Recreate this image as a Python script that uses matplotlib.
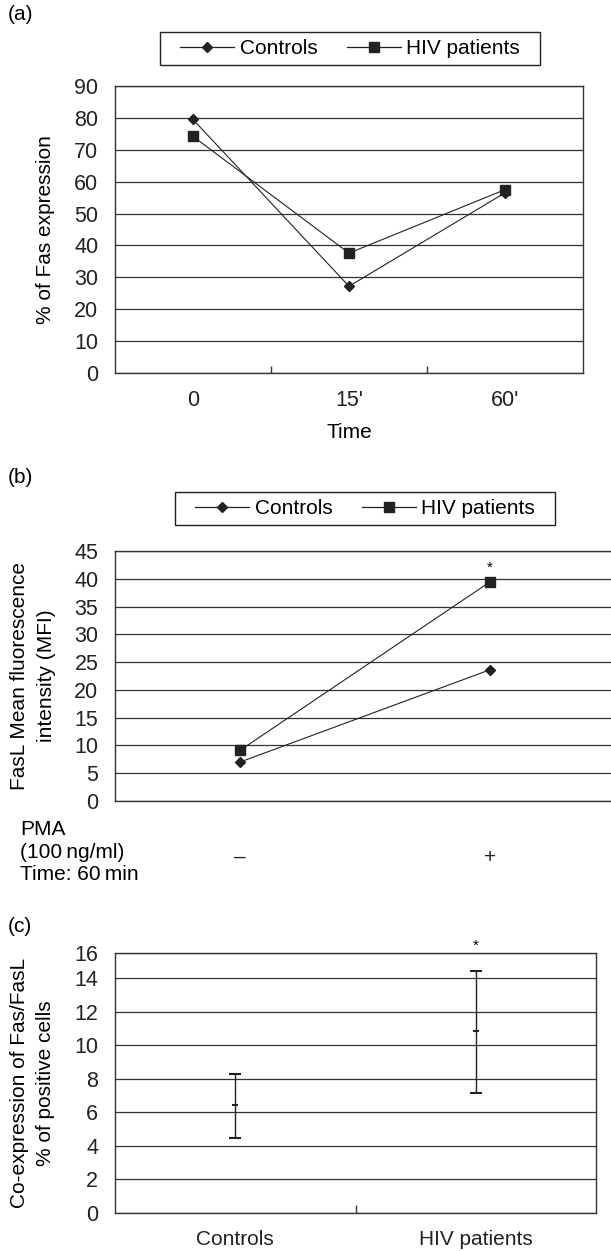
import matplotlib
matplotlib.use("Agg")
import matplotlib.pyplot as plt
from matplotlib.lines import Line2D
from matplotlib.patches import Rectangle

plt.rcParams['font.family'] = ['Liberation Sans', 'DejaVu Sans']
plt.rcParams['font.size'] = 15

# (a) Fas expression over time
time_labels = ['0', "15'", "60'"]
fas_controls = [79.5, 27.2, 56.5]
fas_hiv = [74.2, 37.6, 57.5]

# (b) FasL MFI with / without PMA
pma_labels = ['\u2013', '+']
fasl_controls = [7.0, 23.6]
fasl_hiv = [9.1, 39.4]

# (c) Fas/FasL co-expression, mean and range
groups = ['Controls', 'HIV patients']
coexp_mean = [6.43, 10.83]
coexp_low = [4.48, 7.16]
coexp_high = [8.27, 14.42]

W, H = 611, 1251
INK = '#222222'
GRID = '#333333'


def fx(x):
    return x / W


def fy(y):
    return 1 - y / H


def px_axes(fig, left, right, top, bottom):
    return fig.add_axes([fx(left), fy(bottom), (right - left) / W, (bottom - top) / H])


def style(ax):
    for s in ax.spines.values():
        s.set_color(GRID)
        s.set_linewidth(1.0)
    ax.grid(axis='y', color=GRID, linewidth=0.9)
    ax.set_axisbelow(True)
    ax.tick_params(axis='y', length=0, pad=12, labelsize=15.5, colors=INK)


def legend(ax, left, right, top, bottom):
    fig = ax.figure
    fig.add_artist(Rectangle((fx(left), fy(bottom)), (right - left) / W, (bottom - top) / H,
                             transform=fig.transFigure, fill=False, ec=INK, lw=1.0))
    handles = [Line2D([], [], color=INK, lw=0.9, marker='D', ms=5.5),
               Line2D([], [], color=INK, lw=0.9, marker='s', ms=6.8)]
    ax.legend(handles, ['Controls', 'HIV patients'], ncol=2, loc='center',
              bbox_to_anchor=(fx((left + right) / 2), fy((top + bottom) / 2)),
              bbox_transform=fig.transFigure, frameon=False, fontsize=15,
              handlelength=2.6, handletextpad=0.25, columnspacing=1.4)


def ylabel(fig, text, x, y, spacing=1.2):
    fig.text(fx(x), fy(y), text, rotation=90, ha='center', va='center',
             fontsize=15, linespacing=spacing, multialignment='center')


fig = plt.figure(figsize=(W / 100, H / 100), dpi=100)

# ---------- (a)
ax = px_axes(fig, 115, 583, 86, 373)
x = range(len(time_labels))
ax.plot(x, fas_controls, color=INK, lw=0.8, marker='D', ms=5.5)
ax.plot(x, fas_hiv, color=INK, lw=0.8, marker='s', ms=6.8)
ax.set_xlim(-0.5, len(time_labels) - 0.5)
ax.set_ylim(0, 90)
ax.set_yticks(range(0, 91, 10))
ax.set_xticks(list(x))
ax.set_xticklabels(time_labels)
ax.set_xticks([0.5, 1.5], minor=True)
ax.tick_params(axis='x', which='major', length=0, pad=12, labelsize=15.5, colors=INK)
ax.tick_params(axis='x', which='minor', direction='in', length=5, width=1.0, color=GRID)
style(ax)
ax.set_xlabel('Time', fontsize=15, labelpad=9)
ylabel(fig, '% of Fas expression', 46, 229.5)
legend(ax, 160, 540, 32, 65)
fig.text(fx(8), fy(15), '(a)', ha='left', va='center', fontsize=15)

# ---------- (b)
ax = px_axes(fig, 115, 614.5, 551, 801)
x = range(len(pma_labels))
ax.plot(x, fasl_controls, color=INK, lw=0.8, marker='D', ms=5.5)
ax.plot(x, fasl_hiv, color=INK, lw=0.8, marker='s', ms=6.8)
ax.annotate('*', xy=(1, fasl_hiv[1]), xytext=(0, 10), textcoords='offset points',
            ha='center', va='center', fontsize=11)
ax.set_xlim(-0.5, len(pma_labels) - 0.5)
ax.set_ylim(0, 45)
ax.set_yticks(range(0, 46, 5))
ax.set_xticks(list(x))
ax.set_xticklabels(pma_labels)
ax.tick_params(axis='x', length=0, pad=34, labelsize=15, colors=INK)
style(ax)
ylabel(fig, 'FasL Mean fluorescence\nintensity (MFI)', 33, 676, spacing=1.5)
legend(ax, 175, 555, 492, 525)
fig.text(fx(8), fy(477), '(b)', ha='left', va='center', fontsize=15)
fig.text(fx(20), fy(852), 'PMA\n(100\u2009ng/ml)\nTime: 60\u2009min', ha='left',
         va='center', fontsize=15, linespacing=1.25)

# ---------- (c)
ax = px_axes(fig, 115, 596, 953, 1213)
x = list(range(len(groups)))
yerr = [[m - lo for m, lo in zip(coexp_mean, coexp_low)],
        [hi - m for m, hi in zip(coexp_mean, coexp_high)]]
ax.errorbar(x, coexp_mean, yerr=yerr, fmt='_', color=INK, ms=5, mew=1.5,
            elinewidth=1.0, capsize=4.3, capthick=2.2)
ax.annotate('*', xy=(1, 15.5), xytext=(0, 5), textcoords='offset points',
            ha='center', va='center', fontsize=11, annotation_clip=False)
ax.set_xlim(-0.5, len(groups) - 0.5)
ax.set_ylim(0, 15.5)
ax.set_yticks([0, 2, 4, 6, 8, 10, 12, 14, 15.5])
ax.set_yticklabels(['0', '2', '4', '6', '8', '10', '12', '14', '16'])
ax.set_xticks(x)
ax.set_xticklabels(groups)
ax.set_xticks([0.5], minor=True)
ax.tick_params(axis='x', which='major', length=0, pad=12, labelsize=15, colors=INK)
ax.tick_params(axis='x', which='minor', direction='in', length=5.5, width=1.0, color=GRID)
style(ax)
ylabel(fig, 'Co-expression of Fas/FasL\n% of positive cells', 32.5, 1083, spacing=1.45)
fig.text(fx(8), fy(927), '(c)', ha='left', va='center', fontsize=15)

fig.savefig('out.png', dpi=100)
